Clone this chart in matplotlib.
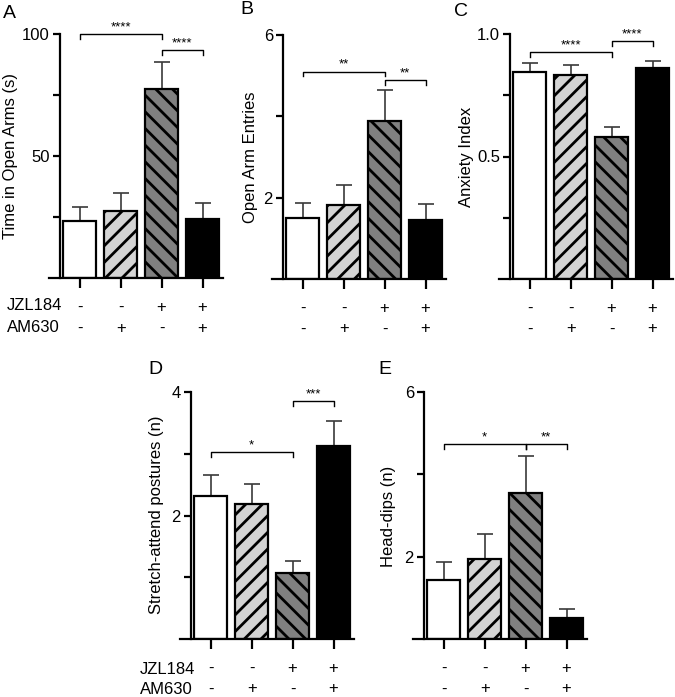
import numpy as np
import matplotlib.pyplot as plt

plt.rcParams['font.family'] = ['Liberation Sans', 'DejaVu Sans']
plt.rcParams['hatch.linewidth'] = 2.0

W, H = 675, 697

# treatment rows under the bars
jzl184 = ['-', '-', '+', '+']
am630 = ['-', '+', '-', '+']

# A
time_open = [23.4, 27.5, 77.5, 24.2]
time_open_err = [5.7, 7.3, 11.0, 6.5]
# B
entries = [1.50, 1.83, 3.88, 1.46]
entries_err = [0.38, 0.49, 0.76, 0.39]
# C
anxiety = [0.845, 0.833, 0.58, 0.86]
anxiety_err = [0.035, 0.041, 0.04, 0.03]
# D
stretch = [2.32, 2.19, 1.07, 3.13]
stretch_err = [0.34, 0.32, 0.19, 0.40]
# E
headdips = [1.44, 1.95, 3.54, 0.51]
headdips_err = [0.44, 0.59, 0.90, 0.22]

# significance brackets: (bar from, bar to, height, stars)
sig_A = [(0, 2, 100, '****'), (2, 3, 93.4, '****')]
sig_B = [(0, 2, 5.1, '**'), (2, 3, 4.89, '**')]
sig_C = [(0, 2, 0.927, '****'), (2, 3, 0.97, '****')]
sig_D = [(0, 2, 3.03, '*'), (2, 3, 3.85, '***')]
sig_E = [(0, 2, 4.73, '*'), (2, 3, 4.73, '**')]

faces = ['white', '#d4d4d4', '#808080', 'black']
hatches = ['', '//', '\\\\', '']

fig = plt.figure(figsize=(W / 100, H / 100), dpi=100)


def panel(center0, top, bottom, means, errs, ymax, yticks, ylabs, sig):
    left = center0 - 31
    ax = fig.add_axes([left / W, 1 - bottom / H, 174 / W, (bottom - top) / H])
    x = np.arange(len(means))
    bars = ax.bar(x, means, width=0.82, color=faces, edgecolor='black',
                  linewidth=1.6, zorder=2)
    for b, h in zip(bars, hatches):
        b.set_hatch(h)
    ax.errorbar(x, means, yerr=[np.zeros(len(errs)), errs], fmt='none',
                ecolor='#3a3a3a', elinewidth=1.2, capsize=6, capthick=1.2,
                zorder=1)
    ax.set_xlim(-0.75, 3.5)
    ax.set_ylim(0, ymax)
    for s in ['top', 'right']:
        ax.spines[s].set_visible(False)
    ax.spines['left'].set_position(('data', -0.49))
    for s in ['left', 'bottom']:
        ax.spines[s].set_linewidth(1.6)
    ax.set_xticks(x)
    ax.set_xticklabels([])
    ax.set_yticks(yticks, ylabs)
    ax.tick_params(axis='x', length=7, width=1.6)
    ax.tick_params(axis='y', length=5, width=1.6, labelsize=12, pad=2)

    dy = ymax * 0.02
    for x1, x2, y, txt in sig:
        ax.plot([x1, x1, x2, x2], [y - dy, y, y, y - dy], color='black',
                lw=1.0, clip_on=False)
        ax.annotate(txt, xy=((x1 + x2) / 2, y), xytext=(0, 0.5),
                    textcoords='offset points', ha='center', va='bottom',
                    fontsize=9.5, annotation_clip=False)

    for i in x:
        ax.annotate(jzl184[i], xy=(i, 0), xycoords=('data', 'axes fraction'),
                    xytext=(0, -21), textcoords='offset points',
                    ha='center', va='center', fontsize=12)
        ax.annotate(am630[i], xy=(i, 0), xycoords=('data', 'axes fraction'),
                    xytext=(0, -36), textcoords='offset points',
                    ha='center', va='center', fontsize=12)
    return ax


panel(80, 34, 278, time_open, time_open_err, 100,
      [25, 50, 75, 100], ['', '50', '', '100'], sig_A)
panel(303, 35, 279, entries, entries_err, 6,
      [2, 4, 6], ['2', '', '6'], sig_B)
panel(530, 34, 279, anxiety, anxiety_err, 1.0,
      [0.25, 0.5, 0.75, 1.0], ['', '0.5', '', '1.0'], sig_C)
panel(211, 392, 639, stretch, stretch_err, 4,
      [1, 2, 3, 4], ['', '2', '', '4'], sig_D)
panel(444, 392, 639, headdips, headdips_err, 6,
      [2, 4, 6], ['2', '', '6'], sig_E)


def ftext(x, y, s, **kw):
    fig.text(x / W, 1 - y / H, s, **kw)


# y labels
ylab = dict(rotation=90, ha='center', va='center', fontsize=12)
ftext(11, 156, 'Time in Open Arms (s)', **ylab)
ftext(251, 157, 'Open Arm Entries', **ylab)
ftext(466, 157, 'Anxiety Index', **ylab)
ftext(157, 515, 'Stretch-attend postures (n)', **ylab)
ftext(389, 516, 'Head-dips (n)', **ylab)

# row names
row = dict(ha='left', va='center', fontsize=12)
ftext(7, 306, 'JZL184', **row)
ftext(7, 327, 'AM630', **row)
ftext(140, 669, 'JZL184', **row)
ftext(140, 690, 'AM630', **row)

# panel letters
let = dict(ha='center', va='center', fontsize=14)
ftext(9, 13, 'A', **let)
ftext(247, 10, 'B', **let)
ftext(461, 12, 'C', **let)
ftext(155, 370, 'D', **let)
ftext(385, 369, 'E', **let)

fig.savefig('out.png', dpi=100)
